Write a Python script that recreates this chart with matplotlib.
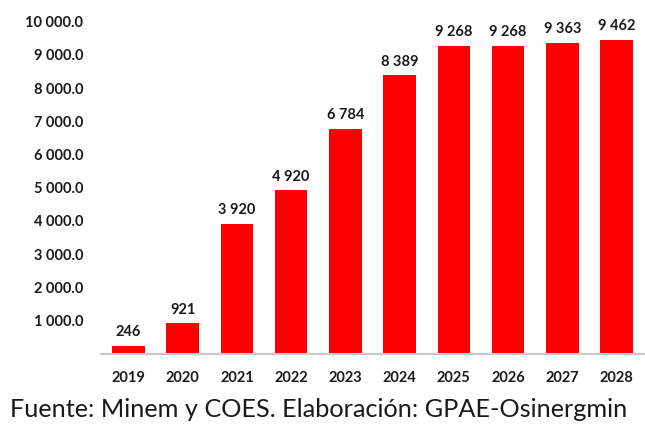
import matplotlib
matplotlib.use("Agg")
import matplotlib.pyplot as plt
from matplotlib.ticker import FuncFormatter

years = ["2019", "2020", "2021", "2022", "2023", "2024", "2025", "2026", "2027", "2028"]
values = [246, 921, 3920, 4920, 6784, 8389, 9268, 9268, 9363, 9462]
yticks = [1000, 2000, 3000, 4000, 5000, 6000, 7000, 8000, 9000, 10000]
source = "Fuente: Minem y COES. Elaboración: GPAE-Osinergmin"

plt.rcParams['font.family'] = ['Lato', 'DejaVu Sans']

fig = plt.figure(figsize=(6.45, 4.3), dpi=100)
ax = fig.add_axes([0.157, 0.177, 0.841, 0.819])

x = range(len(years))
bars = ax.bar(x, values, width=0.6, color="#ff0000", zorder=2)

for xi, v in zip(x, values):
    ax.text(xi, v + 200, f"{v:,}".replace(",", " "), ha="center", va="bottom",
            fontsize=10.5, fontweight="bold", color="#1a1a1a")

ax.set_xlim(-0.5, len(years) - 0.5)
ax.set_ylim(0, 10600)
ax.set_xticks(list(x))
ax.set_xticklabels(years, fontsize=10.5, fontweight="bold", color="#1a1a1a")
ax.set_yticks(yticks)
ax.yaxis.set_major_formatter(FuncFormatter(lambda v, p: f"{v:,.1f}".replace(",", " ")))
for lab in ax.get_yticklabels():
    lab.set_fontsize(10.5)
    lab.set_fontweight("bold")
    lab.set_color("#1a1a1a")

ax.tick_params(axis="both", length=0)
ax.tick_params(axis="y", pad=13)
ax.tick_params(axis="x", pad=12)
for s in ["top", "right", "left"]:
    ax.spines[s].set_visible(False)
ax.spines["bottom"].set_color("#c8c8c8")
ax.spines["bottom"].set_linewidth(1.5)

fig.text(0.015, 0.03, source, fontsize=18.2, color="#1a1a1a", ha="left", va="baseline")

fig.savefig("out.png", dpi=100, facecolor="white")
